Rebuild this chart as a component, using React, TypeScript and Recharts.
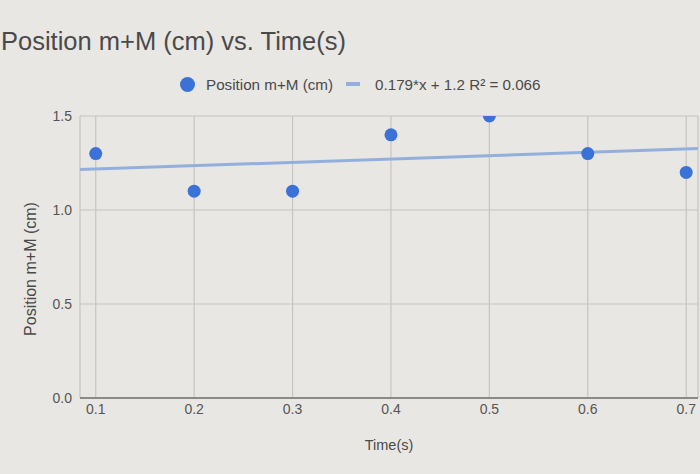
import React from 'react';
import { ComposedChart, Scatter, Line, XAxis, YAxis, CartesianGrid } from 'recharts';

const times = [0.1, 0.2, 0.3, 0.4, 0.5, 0.6, 0.7];
const positions = [1.3, 1.1, 1.1, 1.4, 1.5, 1.3, 1.2];
const xTicks = [0.1, 0.2, 0.3, 0.4, 0.5, 0.6, 0.7];
const yTicks = [0, 0.5, 1.0, 1.5];
const trendX = [0.084, 0.712];
const trendY = [1.215, 1.327];

const points = times.map((t, i) => ({ x: t, y: positions[i] }));
const trend = trendX.map((t, i) => ({ x: t, t: trendY[i] }));

const FONT = 'Arial, "Liberation Sans", Helvetica, sans-serif';
const BG = '#e9e7e3';
const TEXT = '#4a4a4a';
const DOT = '#3a72d8';
const TREND = '#93b0dc';
const PLOT_TOP = 116;

const Dot = (props: any) => {
  const id = `dotclip-${props.index ?? Math.round(props.cx)}`;
  return (
    <g>
      <defs>
        <clipPath id={id}>
          <rect x={0} y={PLOT_TOP} width={700} height={400} />
        </clipPath>
      </defs>
      <circle cx={props.cx} cy={props.cy} r={6.5} fill={DOT} clipPath={`url(#${id})`} />
    </g>
  );
};

export default function App() {
  return (
    <div style={{ position: 'absolute', left: 0, top: 0, width: 700, height: 474, background: BG, fontFamily: FONT, overflow: 'hidden' }}>
      <div style={{ position: 'absolute', left: 1, top: 27, fontSize: 25.5, color: TEXT, whiteSpace: 'nowrap' }}>
        Position m+M (cm) vs. Time(s)
      </div>
      <div style={{ position: 'absolute', left: 180, top: 75, height: 18, display: 'flex', alignItems: 'center', fontSize: 15.2, color: TEXT, whiteSpace: 'nowrap' }}>
        <span style={{ display: 'inline-block', width: 15, height: 15, borderRadius: 8, background: DOT, marginRight: 11 }} />
        <span>Position m+M (cm)</span>
        <span style={{ display: 'inline-block', width: 14, height: 4, background: TREND, marginLeft: 13, marginRight: 15 }} />
        <span>0.179*x + 1.2 R² = 0.066</span>
      </div>
      <div style={{ position: 'absolute', left: 31, top: 269, width: 0, height: 0 }}>
        <div style={{ position: 'absolute', transform: 'translate(-50%, -50%) rotate(-90deg)', fontSize: 16, color: TEXT, whiteSpace: 'nowrap' }}>
          Position m+M (cm)
        </div>
      </div>
      <ComposedChart width={700} height={474} margin={{ top: PLOT_TOP, right: 2, bottom: 0, left: 0 }} style={{ position: 'absolute', left: 0, top: 0 }}>
        <CartesianGrid stroke="#c6c4c0" strokeWidth={1.2} />
        <XAxis
          type="number"
          dataKey="x"
          domain={[0.084, 0.712]}
          ticks={xTicks}
          allowDataOverflow
          height={76}
          tickSize={0}
          tickMargin={6}
          tickFormatter={(v: number) => v.toFixed(1)}
          tick={{ fill: '#555', fontSize: 14, fontFamily: FONT }}
          axisLine={{ stroke: '#8c8a87', strokeWidth: 2 }}
          label={{ value: 'Time(s)', position: 'insideBottom', offset: 24, fill: TEXT, fontSize: 14.5, fontFamily: FONT }}
        />
        <YAxis
          type="number"
          domain={[0, 1.5]}
          ticks={yTicks}
          allowDataOverflow
          width={80}
          tickSize={0}
          tickMargin={8}
          axisLine={false}
          tickFormatter={(v: number) => v.toFixed(1)}
          tick={{ fill: '#555', fontSize: 14, fontFamily: FONT }}
        />
        <Line data={trend} dataKey="t" type="linear" stroke={TREND} strokeWidth={3} dot={false} activeDot={false} isAnimationActive={false} />
        <Scatter data={points} dataKey="y" shape={Dot} isAnimationActive={false} />
      </ComposedChart>
    </div>
  );
}
